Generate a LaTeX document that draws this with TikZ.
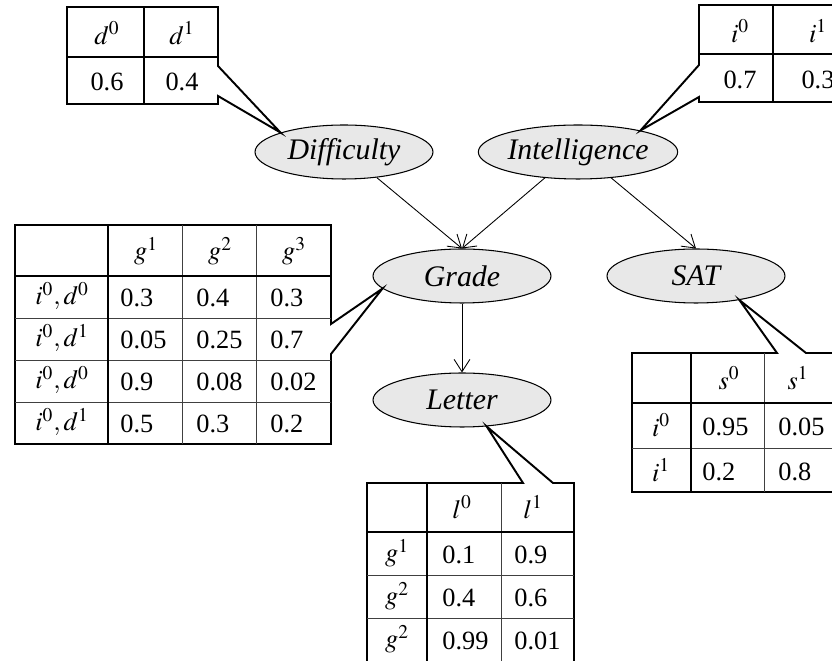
\documentclass[tikz,border=0pt]{standalone}
\usepackage{mathptmx}
\usepackage{fontspec}
\setmainfont{Liberation Serif}
\usetikzlibrary{shapes.geometric,arrows.meta}

\begin{document}
\begin{tikzpicture}[x=0.02cm, y=-0.02cm,
  var/.style={draw, ellipse, fill=black!9, line width=0.6pt, minimum width=3.56cm, minimum height=1.08cm, inner sep=0pt, font=\fontsize{17}{20}\selectfont\itshape},
  edge/.style={-{Straight Barb[length=7pt,width=9pt]}, line width=0.5pt},
  cpd/.style={line width=1.1pt, fill=white, line join=miter},
  heavy/.style={line width=1.6pt},
  light/.style={line width=0.45pt, black!75},
  num/.style={inner sep=0pt, font=\fontsize{15}{18}\selectfont},
  numl/.style={num, anchor=west}]

\clip (0,0) rectangle (832,661);

% variables
\node[var] (diff) at (344,152) {Difficulty};
\node[var] (intel) at (578,152) {Intelligence};
\node[var] (grade) at (462,276) {Grade};
\node[var] (sat) at (696,276) {SAT};
\node[var] (letter) at (462,400) {Letter};

\draw[edge] (diff.-38) -- (grade.north);
\draw[edge] (intel.-142) -- (grade.north);
\draw[edge] (intel.-38) -- (sat.north);
\draw[edge] (grade) -- (letter);

% P(D)
\draw[cpd] (67,7) -- (218,7) -- (218,66) -- (diff.163) -- (218,96) -- (218,104) -- (67,104) -- cycle;
\draw[heavy] (67,57) -- (218,57);
\draw[heavy] (144,7) -- (144,104);
\node[num] (d0) at (107,33) {$d^0$};
\node[num] (d1) at (182,33) {$d^1$};
\node[num] (pd0) at (107,82) {0.6};
\node[num] (pd1) at (182,82) {0.4};

% P(I)
\draw[cpd] (699,5) -- (860,5) -- (860,102) -- (699,102) -- (699,97) -- (intel.19) -- (699,65) -- cycle;
\draw[heavy] (699,54) -- (860,54);
\draw[heavy] (773,5) -- (773,102);
\node[num] (i0) at (740,31) {$i^0$};
\node[num] (i1) at (818,31) {$i^1$};
\node[num] (pi0) at (740,80) {0.7};
\node[num] (pi1) at (818,80) {0.3};

% P(G | I,D)
\draw[cpd] (15,225) -- (331,225) -- (331,324) -- (grade.-171) -- (331,354) -- (331,444) -- (15,444) -- cycle;
\draw[light] (182,225) -- (182,444);
\draw[light] (256,225) -- (256,444);
\draw[light] (15,318) -- (331,318);
\draw[light] (15,360) -- (331,360);
\draw[light] (15,402) -- (331,402);
\draw[heavy] (15,276) -- (331,276);
\draw[heavy] (108,225) -- (108,444);
\node[num] (g1) at (146,251) {$g^1$};
\node[num] (g2) at (220,251) {$g^2$};
\node[num] (g3) at (294,251) {$g^3$};
\node[num] (r1) at (62,296) {$i^0,d^0$};
\node[num] (r2) at (62,338) {$i^0,d^1$};
\node[num] (r3) at (62,380) {$i^0,d^0$};
\node[num] (r4) at (62,422) {$i^0,d^1$};
\node[numl] at (120,298) {0.3};
\node[numl] at (196,298) {0.4};
\node[numl] at (270,298) {0.3};
\node[numl] at (120,340) {0.05};
\node[numl] at (196,340) {0.25};
\node[numl] at (270,340) {0.7};
\node[numl] at (120,382) {0.9};
\node[numl] at (196,382) {0.08};
\node[numl] at (270,382) {0.02};
\node[numl] at (120,424) {0.5};
\node[numl] at (196,424) {0.3};
\node[numl] at (270,424) {0.2};

% P(S | I)
\draw[cpd] (632,353) -- (777,353) -- (sat.-29) -- (806,353) -- (860,353) -- (860,492) -- (632,492) -- cycle;
\draw[light] (764,353) -- (764,492);
\draw[light] (632,448) -- (860,448);
\draw[heavy] (632,403) -- (860,403);
\draw[heavy] (691,353) -- (691,492);
\node[num] (s0) at (729,378) {$s^0$};
\node[num] (s1) at (798,378) {$s^1$};
\node[num] (si0) at (661,425) {$i^0$};
\node[num] (si1) at (661,470) {$i^1$};
\node[numl] at (702,427) {0.95};
\node[numl] at (778,427) {0.05};
\node[numl] at (702,472) {0.2};
\node[numl] at (778,472) {0.8};

% P(L | G)
\draw[cpd] (367,483) -- (523,483) -- (letter.-47) -- (553,483) -- (574,483) -- (574,664) -- (367,664) -- cycle;
\draw[light] (501,483) -- (501,664);
\draw[light] (367,575) -- (574,575);
\draw[light] (367,618) -- (574,618);
\draw[heavy] (367,532) -- (574,532);
\draw[heavy] (427,483) -- (427,664);
\node[num] (l0) at (462,507) {$l^0$};
\node[num] (l1) at (533,507) {$l^1$};
\node[num] (lg1) at (397,553) {$g^1$};
\node[num] (lg2) at (397,596) {$g^2$};
\node[num] (lg3) at (397,639) {$g^2$};
\node[numl] at (442,555) {0.1};
\node[numl] at (514,555) {0.9};
\node[numl] at (442,598) {0.4};
\node[numl] at (514,598) {0.6};
\node[numl] at (442,641) {0.99};
\node[numl] at (514,641) {0.01};
\end{tikzpicture}
\end{document}
